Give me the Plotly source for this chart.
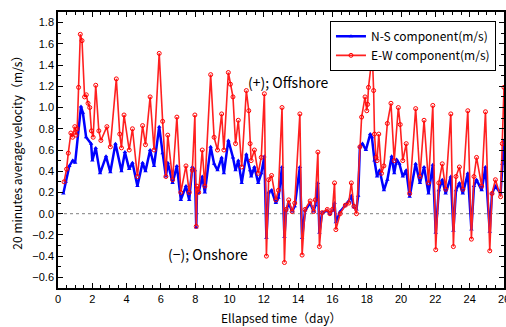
import plotly.graph_objects as go

# E-W component (red)
ew_day = [0.35, 0.5, 0.6, 0.75, 0.85, 0.98, 1.05, 1.12, 1.2, 1.3, 1.4, 1.55, 1.65, 1.75, 1.85, 1.95,
          2.05, 2.2, 2.38, 2.5, 2.85, 3.05, 3.4, 3.6, 3.7, 3.85, 4.15, 4.34, 4.63, 4.93, 5.1, 5.37,
          5.6, 5.9, 6.1, 6.29, 6.4, 6.68, 6.93, 7.16, 7.46, 7.65, 7.83, 7.98, 8.06, 8.1, 8.2, 8.41,
          8.56, 8.9, 9.1, 9.3, 9.54, 9.67, 9.93, 10.05, 10.2, 10.35, 10.51, 10.71, 10.98, 11.12,
          11.2, 11.26, 11.45, 11.67, 11.85, 12.03, 12.15, 12.28, 12.45, 12.7, 12.85, 13.06, 13.2,
          13.3, 13.45, 13.65, 13.8, 14.1, 14.23, 14.4, 14.7, 14.9, 15.0, 15.15, 15.24, 15.4, 15.7,
          15.85, 16.0, 16.12, 16.2, 16.45, 16.75, 16.95, 17.1, 17.25, 17.4, 17.6, 17.7, 17.9, 18.0,
          18.05, 18.1, 18.26, 18.35, 18.4, 18.45, 18.54, 18.6, 18.7, 18.86, 19.0, 19.2, 19.41, 19.6,
          19.84, 19.95, 20.1, 20.3, 20.5, 20.85, 21.1, 21.34, 21.6, 21.85, 22.02, 22.2, 22.4, 22.6,
          22.9, 23.05, 23.2, 23.4, 23.6, 23.89, 24.1, 24.25, 24.4, 24.7, 24.92, 25.17, 25.3, 25.5,
          25.8, 25.9, 26.0]
ew_val = [0.30, 0.42, 0.57, 0.76, 0.72, 0.82, 0.74, 0.80, 1.19, 1.69, 1.63, 1.10, 1.12, 1.04, 1.00, 0.78,
          0.72, 1.21, 0.78, 0.69, 0.82, 0.63, 1.27, 0.75, 0.62, 0.93, 0.60, 0.80, 0.35, 0.83, 0.65, 1.10,
          0.60, 1.51, 0.87, 0.35, 0.74, 0.32, 0.91, 0.20, 0.45, 0.20, 0.41, 0.93, -0.12, 0.26, 0.20, 0.60,
          0.26, 1.31, 0.72, 0.60, 0.94, 0.60, 1.33, 1.22, 1.10, 0.66, 0.88, 0.44, 1.16, 0.97,
          0.66, 0.50, 0.60, 0.38, 0.53, 1.13, -0.40, 0.32, 0.36, 0.13, 0.22, 1.00, -0.46,
          0.04, 0.13, 0.02, 0.10, 0.94, -0.39, 0.04, 0.12, 0.02, 0.13, 0.58, -0.31, 0.01, 0.04,
          0.00, 0.04, 0.29, -0.15, 0.00, 0.08, 0.10, 0.29, 0.07, 0.00, 0.63, 0.91, 1.10, 0.97,
          1.03, 1.19, 1.41, 1.38, 1.16, 0.75, 0.53, 0.50, 0.75, 0.38, 0.45, 0.85, 1.04, 0.50,
          1.00, 0.84, 0.50, 0.66, 0.19, 0.99, 0.35, 0.88, 0.29, 1.02, -0.34, 0.29, 0.47, 0.23,
          0.94, -0.31, 0.35, 0.44, 0.23, 0.97, -0.24, 0.35, 0.53, 0.26, 0.96, -0.35, 0.19, 0.32,
          0.16, 0.66, 1.19]

# N-S component (blue)
ns_day = [0.31, 0.45, 0.66, 0.86, 1.0, 1.34, 1.45, 1.64, 1.93, 2.0, 2.2, 2.45, 2.8, 3.05, 3.35, 3.7,
          3.9, 4.15, 4.34, 4.63, 4.93, 5.1, 5.37, 5.6, 5.9, 6.1, 6.29, 6.4, 6.68, 6.93, 7.16, 7.46,
          7.65, 7.83, 7.98, 8.06, 8.1, 8.2, 8.41, 8.56, 8.9, 9.1, 9.3, 9.54, 9.67, 9.93, 10.2, 10.35,
          10.51, 10.71, 10.98, 11.2, 11.26, 11.45, 11.67, 11.85, 12.03, 12.15, 12.28, 12.45, 12.7,
          12.85, 13.06, 13.2, 13.3, 13.45, 13.65, 13.8, 14.1, 14.23, 14.4, 14.7, 14.9, 15.0, 15.15,
          15.24, 15.4, 15.7, 15.85, 16.0, 16.12, 16.2, 16.45, 16.75, 16.95, 17.1, 17.25, 17.4, 17.5,
          17.6, 17.75, 17.95, 18.2, 18.3, 18.45, 18.6, 18.75, 19.0, 19.2, 19.45, 19.6, 19.74, 19.9,
          20.1, 20.3, 20.5, 20.85, 21.1, 21.34, 21.6, 21.85, 22.02, 22.2, 22.4, 22.6, 22.9, 23.05,
          23.2, 23.4, 23.6, 23.89, 24.1, 24.25, 24.4, 24.7, 24.92, 25.17, 25.3, 25.5, 25.8, 25.9, 26.0]
ns_val = [0.19, 0.30, 0.45, 0.50, 0.48, 1.01, 0.95, 0.72, 0.66, 0.50, 0.62, 0.38, 0.54, 0.39, 0.66, 0.40,
          0.58, 0.42, 0.48, 0.26, 0.48, 0.40, 0.60, 0.45, 0.82, 0.57, 0.35, 0.48, 0.29, 0.45, 0.13, 0.26,
          0.13, 0.44, 0.41, -0.13, 0.20, 0.20, 0.35, 0.20, 0.63, 0.47, 0.41, 0.53, 0.38, 0.69, 0.53, 0.41,
          0.50, 0.29, 0.56, 0.41, 0.35, 0.44, 0.29, 0.38, 0.54, -0.23, 0.20, 0.22, 0.10,
          0.15, 0.44, -0.22, 0.03, 0.10, 0.02, 0.07, 0.44, -0.23, 0.03, 0.10, 0.02, 0.08, 0.29,
          -0.18, 0.01, 0.03, 0.00, 0.03, 0.10, -0.08, 0.02, 0.08, 0.12, 0.17, 0.06, 0.04, 0.17,
          0.63, 0.66, 0.60, 0.75, 0.72, 0.50, 0.35, 0.41, 0.22, 0.32, 0.54, 0.38, 0.51, 0.47,
          0.35, 0.41, 0.16, 0.47, 0.29, 0.44, 0.19, 0.46, -0.18, 0.22, 0.32, 0.19, 0.35, -0.16,
          0.22, 0.29, 0.19, 0.38, -0.15, 0.26, 0.32, 0.22, 0.44, -0.17, 0.19, 0.26, 0.19, 0.47, 0.69]

x_ticks = list(range(0, 27, 2))
y_ticks = [round(-0.6 + 0.2 * i, 1) for i in range(13)]

fig = go.Figure()
fig.add_trace(go.Scatter(
    x=ns_day, y=ns_val, mode="lines+markers", name="N-S component(m/s)",
    line=dict(color="#0000ff", width=2.5),
    marker=dict(symbol="triangle-up", size=4, color="#0000ff"),
))
fig.add_trace(go.Scatter(
    x=ew_day, y=ew_val, mode="lines+markers", name="E-W component(m/s)",
    line=dict(color="#ff2020", width=1.6),
    marker=dict(symbol="circle-open", size=4, color="#ff0000", line=dict(width=1)),
))

fig.add_shape(type="line", xref="x", yref="y", x0=0, x1=26, y0=0, y1=0,
              line=dict(color="#808080", width=1, dash="dot"), layer="below")

fig.add_annotation(x=13.4, y=1.24, text="(+); Offshore", showarrow=False,
                   font=dict(size=14, color="#000", family="Noto Sans CJK JP"))
fig.add_annotation(x=8.76, y=-0.38, text="(−); Onshore", showarrow=False,
                   font=dict(size=14, color="#000", family="Noto Sans CJK JP"))
# axis titles
fig.add_annotation(xref="paper", yref="paper", x=0.5, y=-0.07, yanchor="top",
                   text="Ellapsed time（day）", showarrow=False,
                   font=dict(size=12, color="#000", family="Noto Sans CJK JP"))
fig.add_annotation(xref="paper", yref="paper", x=-0.095, y=0.5, xanchor="center",
                   textangle=-90, text="20 minutes average velocity（m/s）", showarrow=False,
                   font=dict(size=12, color="#000", family="Noto Sans CJK JP"))

axis_common = dict(showline=True, linecolor="#000", linewidth=1.5, mirror="allticks",
                   ticks="inside", ticklen=5, tickcolor="#000", showgrid=False, zeroline=False,
                   automargin=False, ticklabeloverflow="allow",
                   tickfont=dict(size=11, color="#000", family="Liberation Sans, Arial"))

fig.update_xaxes(range=[0, 26], tickvals=x_ticks, ticktext=[str(v) for v in x_ticks],
                 minor=dict(dtick=0.5, ticks="inside", ticklen=3, tickcolor="#000"),
                 **axis_common)
fig.update_yaxes(range=[-0.7, 1.9], tickvals=y_ticks, tickformat=".1f",
                 minor=dict(dtick=0.1, ticks="inside", ticklen=3, tickcolor="#000"),
                 **axis_common)

fig.update_layout(
    width=506, height=327,
    margin=dict(l=58, r=2, t=12, b=39, autoexpand=False),
    plot_bgcolor="white", paper_bgcolor="white",
    showlegend=True,
    legend=dict(x=0.982, y=0.968, xanchor="right", yanchor="top",
                bgcolor="white", bordercolor="#000", borderwidth=1,
                font=dict(size=12, color="#000", family="Noto Sans CJK JP"),
                tracegroupgap=0, itemwidth=30),
)

fig.write_html(
    "out.html",
    config={"displayModeBar": False},
    post_script=("document.body.style.margin='0';"
                 "document.body.style.overflow='hidden';"
                 "document.documentElement.style.overflow='hidden';"),
)
